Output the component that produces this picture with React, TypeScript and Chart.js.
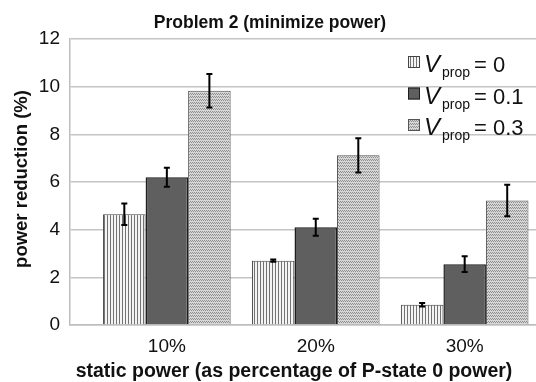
import React, { useEffect, useRef } from "react";
import { Chart, registerables } from "chart.js";

Chart.register(...registerables);

const categories = ["10%", "20%", "30%"];
const seriesLabels = ["0", "0.1", "0.3"];
const vprop0 = [4.65, 2.7, 0.85];
const err0 = [0.45, 0.05, 0.07];
const vprop01 = [6.2, 4.1, 2.55];
const err01 = [0.4, 0.36, 0.33];
const vprop03 = [9.83, 7.12, 5.22];
const err03 = [0.7, 0.72, 0.66];
const yTicks = [0, 2, 4, 6, 8, 10, 12];

const FONT = "'Liberation Sans', Arial, sans-serif";

function makeStripe(): CanvasPattern | string {
  const c = document.createElement("canvas");
  c.width = 3;
  c.height = 1;
  const x = c.getContext("2d");
  if (!x) return "#ccc";
  x.fillStyle = "#f4f4f4";
  x.fillRect(0, 0, 3, 1);
  x.fillStyle = "#727272";
  x.fillRect(2, 0, 1, 1);
  return x.createPattern(c, "repeat") || "#ccc";
}

function makeTexture(): CanvasPattern | string {
  const c = document.createElement("canvas");
  c.width = 4;
  c.height = 3;
  const x = c.getContext("2d");
  if (!x) return "#ccc";
  const D = "#8e8e8e";
  const L = "#d6d6d6";
  const rows = [
    [D, L, D, L],
    [L, D, L, D],
    [L, L, L, L],
  ];
  rows.forEach((r, j) =>
    r.forEach((col, i) => {
      x.fillStyle = col;
      x.fillRect(i, j, 1, 1);
    })
  );
  return x.createPattern(c, "repeat") || "#ccc";
}

export default function App() {
  const ref = useRef<HTMLCanvasElement | null>(null);

  useEffect(() => {
    if (!ref.current) return;
    const stripe = makeStripe();
    const texture = makeTexture();
    const fills = [stripe, "#5f5f5f", texture];
    const borders = ["#444444", "#1e1e1e", "#555555"];
    const values = [vprop0, vprop01, vprop03];
    const errors = [err0, err01, err03];

    const errorBars = {
      id: "errorBars",
      afterDatasetsDraw(chart: any) {
        const ctx = chart.ctx;
        const y = chart.scales.y;
        ctx.save();
        ctx.strokeStyle = "#000";
        ctx.lineWidth = 2;
        chart.data.datasets.forEach((ds: any, di: number) => {
          const meta = chart.getDatasetMeta(di);
          meta.data.forEach((bar: any, i: number) => {
            const v = values[di][i];
            const e = errors[di][i];
            const top = y.getPixelForValue(v + e);
            const bot = y.getPixelForValue(v - e);
            const cx = bar.x;
            ctx.beginPath();
            ctx.moveTo(cx, top);
            ctx.lineTo(cx, bot);
            ctx.moveTo(cx - 3, top);
            ctx.lineTo(cx + 3, top);
            ctx.moveTo(cx - 3, bot);
            ctx.lineTo(cx + 3, bot);
            ctx.stroke();
          });
        });
        ctx.restore();
      },
    };

    const texts = {
      id: "texts",
      afterDraw(chart: any) {
        const ctx = chart.ctx;
        ctx.save();
        ctx.fillStyle = "#111";
        // title
        ctx.font = `bold 17.5px ${FONT}`;
        ctx.textAlign = "center";
        ctx.textBaseline = "alphabetic";
        ctx.fillText("Problem 2 (minimize power)", 270, 28);
        // x title
        ctx.font = `bold 19.5px ${FONT}`;
        ctx.fillText("static power (as percentage of P-state 0 power)", 294, 377);
        // y title
        ctx.save();
        ctx.translate(27, 179);
        ctx.rotate(-Math.PI / 2);
        ctx.font = `bold 18.5px ${FONT}`;
        ctx.fillText("power reduction (%)", 0, 0);
        ctx.restore();
        // legend
        const baselines = [72, 103.5, 135];
        seriesLabels.forEach((lab, i) => {
          const b = baselines[i];
          ctx.fillStyle = fills[i] as any;
          ctx.fillRect(408, b - 16, 12, 12);
          ctx.strokeStyle = borders[i];
          ctx.lineWidth = 1;
          ctx.strokeRect(408.5, b - 15.5, 11, 11);
          ctx.fillStyle = "#111";
          ctx.textAlign = "left";
          ctx.font = `italic 24px ${FONT}`;
          ctx.fillText("V", 424, b);
          ctx.font = `14px ${FONT}`;
          ctx.fillText("prop", 442, b + 5);
          ctx.font = `22px ${FONT}`;
          ctx.fillText("= " + lab, 474, b);
        });
        ctx.restore();
      },
    };

    const chart = new Chart(ref.current, {
      type: "bar",
      data: {
        datasets: values.map((vals, di) => ({
          label: "V_prop = " + seriesLabels[di],
          data: vals.map((v, i) => ({ x: i, y: v })),
          backgroundColor: fills[di] as any,
          borderColor: borders[di],
          borderWidth: di === 1 ? 1.5 : 1,
          categoryPercentage: 0.857,
          barPercentage: 1,
        })),
      },
      options: {
        responsive: false,
        animation: false,
        devicePixelRatio: 1,
        layout: { padding: { top: 39, left: 0, right: 0, bottom: 0 } },
        plugins: {
          legend: { display: false },
          title: { display: false },
          tooltip: { enabled: false },
        },
        scales: {
          x: {
            type: "linear",
            offset: false,
            min: -0.6504,
            max: 2.479,
            grid: { display: false, offset: false },
            border: { display: true, color: "#bdbdbd", width: 1.5 },
            afterBuildTicks(scale: any) {
              scale.ticks = categories.map((_, i) => ({ value: i }));
            },
            afterFit(scale: any) {
              scale.height = 57;
            },
            ticks: {
              color: "#111",
              padding: 2,
              font: { family: FONT, size: 19 },
              callback: (v: any) => categories[Math.round(Number(v))] ?? "",
            },
          },
          y: {
            min: 0,
            max: 12,
            afterBuildTicks(scale: any) {
              scale.ticks = yTicks.map((v) => ({ value: v }));
            },
            afterFit(scale: any) {
              scale.width = 70;
            },
            grid: { color: "#c4c4c4", lineWidth: 1.5, drawTicks: false },
            border: { display: true, color: "#bdbdbd", width: 1.5 },
            ticks: {
              color: "#111",
              padding: 10,
              font: { family: FONT, size: 19 },
            },
          },
        },
      },
      plugins: [errorBars, texts],
    } as any);

    return () => chart.destroy();
  }, []);

  return (
    <div style={{ position: "absolute", left: 0, top: 0, width: 536, height: 382, background: "#fff" }}>
      <canvas ref={ref} width={536} height={382} />
    </div>
  );
}
